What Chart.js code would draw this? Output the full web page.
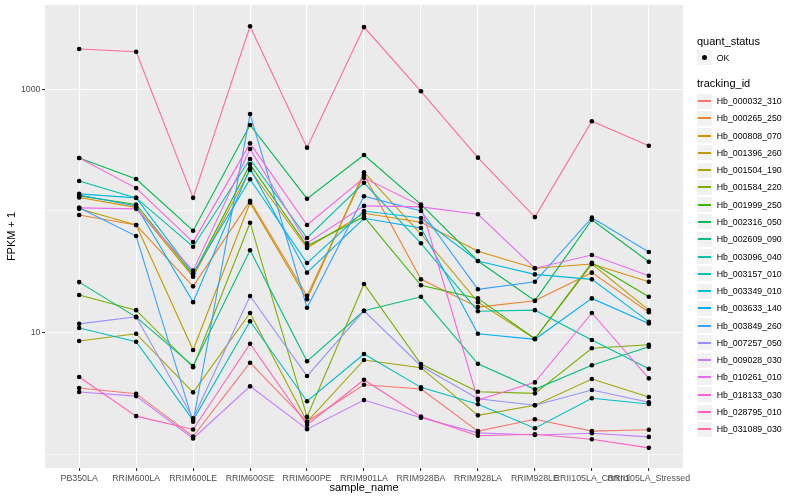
<!DOCTYPE html>
<html>
<head>
<meta charset="utf-8">
<script src="https://cdn.jsdelivr.net/npm/chart.js@4.4.1/dist/chart.umd.min.js"></script>
<style>
  body { margin: 0; background: #fff; font-family: "Liberation Sans", Arial, sans-serif; }
  #wrap { position: relative; width: 800px; height: 500px; }
  #legend div { position: absolute; white-space: nowrap; }
  .ttl { font-size: 11px; color: #000; height: 14px; line-height: 14px; }
  .lab { font-size: 8.8px; color: #000; height: 12px; line-height: 12px; }
  .key { background: #F2F2F2; width: 15px; height: 15px; }
</style>
</head>
<body>
<div id="wrap">
  <canvas id="chart" width="800" height="500"></canvas>
  <div id="legend"></div>
</div>
<script>
const sampleNames = ["PB350LA", "RRIM600LA", "RRIM600LE", "RRIM600SE", "RRIM600PE", "RRIM901LA",
  "RRIM928BA", "RRIM928LA", "RRIM928LE", "RRII105LA_Control", "RRII105LA_Stressed"];

const trackingIds = ["Hb_000032_310", "Hb_000265_250", "Hb_000808_070", "Hb_001396_260", "Hb_001504_190",
  "Hb_001584_220", "Hb_001999_250", "Hb_002316_050", "Hb_002609_090", "Hb_003096_040",
  "Hb_003157_010", "Hb_003349_010", "Hb_003633_140", "Hb_003849_260", "Hb_007257_050",
  "Hb_009028_030", "Hb_010261_010", "Hb_018133_030", "Hb_028795_010", "Hb_031089_030"];

const trackingColors = ["#F8766D", "#EA8331", "#D89000", "#C09B00", "#A3A500", "#7CAE00", "#39B600",
  "#00BB4E", "#00BF7D", "#00C1A3", "#00BFC4", "#00BAE0", "#00B0F6", "#35A2FF", "#9590FF",
  "#C77CFF", "#E76BF3", "#FA62DB", "#FF62BC", "#FF6C91"];

// FPKM + 1 per sample, one array per gene
const hb_000032_310 = [3.51, 3.15, 1.40, 5.66, 1.85, 3.73, 3.44, 1.55, 1.94, 1.55, 1.59];
const hb_000265_250 = [92.5, 76.6, 24.0, 121, 20.1, 197, 27.4, 16.2, 18.3, 31.1, 14.7];
const hb_000808_070 = [129, 107, 28.8, 217, 49.6, 95.6, 80.6, 46.6, 33.8, 36.6, 26.2];
const hb_001396_260 = [104, 76.6, 7.19, 117, 18.8, 208, 64.6, 17.8, 8.91, 36.6, 15.3];
const hb_001504_190 = [8.53, 9.79, 3.23, 14.5, 1.85, 5.96, 5.15, 2.09, 2.53, 4.16, 2.96];
const hb_001584_220 = [20.4, 15.3, 5.19, 80.0, 2.03, 25.1, 5.52, 3.27, 3.17, 7.43, 7.95];
const hb_001999_250 = [133, 113, 29.9, 241, 51.5, 89.6, 24.5, 19.1, 8.91, 37.5, 19.7];
const hb_002316_050 = [272, 183, 68.8, 508, 126, 288, 113, 38.8, 18.3, 84.7, 38.2];
const hb_002609_090 = [26.0, 13.4, 5.32, 47.5, 5.81, 15.1, 19.7, 5.55, 3.42, 5.39, 7.66];
const hb_003096_040 = [176, 128, 50.8, 267, 59.9, 170, 54.2, 15.0, 15.3, 8.69, 5.05];
const hb_003157_010 = [10.9, 8.42, 1.91, 12.4, 2.73, 6.67, 3.55, 2.58, 1.64, 2.89, 2.59];
const hb_003349_010 = [138, 128, 30.7, 182, 37.3, 99.8, 87.4, 38.8, 30.1, 27.4, 12.3];
const hb_003633_140 = [135, 110, 17.8, 224, 31.1, 87.0, 72.4, 9.79, 8.81, 19.1, 11.9];
const hb_003849_260 = [106, 62.2, 1.85, 625, 16.0, 132, 100, 22.7, 26.2, 88.0, 46.0];
const hb_007257_050 = [11.8, 13.5, 1.98, 20.0, 4.40, 15.1, 5.32, 2.86, 2.53, 3.38, 2.68];
const hb_009028_030 = [3.25, 3.01, 1.35, 3.62, 1.61, 2.79, 2.00, 1.50, 1.44, 1.49, 1.39];
const hb_010261_010 = [106, 104, 32.3, 323, 54.2, 110, 108, 93.8, 33.8, 43.4, 29.3];
const hb_018133_030 = [272, 154, 55.5, 359, 76.6, 187, 110, 2.79, 3.90, 14.5, 4.21];
const hb_028795_010 = [4.32, 2.06, 1.60, 8.10, 1.74, 4.10, 2.04, 1.42, 1.46, 1.33, 1.13];
const hb_031089_030 = [2140, 2030, 128, 3290, 331, 3240, 961, 274, 89, 545, 343];

const seriesValues = [hb_000032_310, hb_000265_250, hb_000808_070, hb_001396_260, hb_001504_190,
  hb_001584_220, hb_001999_250, hb_002316_050, hb_002609_090, hb_003096_040,
  hb_003157_010, hb_003349_010, hb_003633_140, hb_003849_260, hb_007257_050,
  hb_009028_030, hb_010261_010, hb_018133_030, hb_028795_010, hb_031089_030];

const yGridTicks = [1, 10, 100, 1000];
const yLabelTicks = [10, 1000];

const panelBg = {
  id: "panelBg",
  beforeDraw(chart) {
    const { ctx, chartArea: a } = chart;
    ctx.save();
    ctx.fillStyle = "#EBEBEB";
    ctx.fillRect(a.left, a.top, a.right - a.left, a.bottom - a.top);
    ctx.restore();
  },
};

const toXY = (vals) => vals.map((v, i) => ({ x: i, y: v }));

// lines first (first gene at the bottom), then all points on top
const lineSets = seriesValues.map((vals, i) => ({
  label: trackingIds[i],
  data: toXY(vals),
  borderColor: trackingColors[i],
  borderWidth: 1.1,
  pointRadius: 0,
  fill: false,
  order: 100 - i,
}));
const pointSets = seriesValues.map((vals, i) => ({
  label: trackingIds[i] + " OK",
  data: toXY(vals),
  showLine: false,
  pointRadius: 2.3,
  pointBorderWidth: 0,
  pointBackgroundColor: "#000",
  order: 0,
}));

new Chart(document.getElementById("chart").getContext("2d"), {
  type: "line",
  data: { datasets: [...lineSets, ...pointSets] },
  plugins: [panelBg],
  options: {
    responsive: false,
    animation: false,
    events: [],
    layout: { padding: { top: 5, right: 117, left: 0, bottom: 0 } },
    plugins: { legend: { display: false }, tooltip: { enabled: false } },
    scales: {
      x: {
        type: "linear",
        min: -0.6,
        max: 10.6,
        afterBuildTicks: (s) => { s.ticks = sampleNames.map((_, i) => ({ value: i })); },
        afterFit: (s) => { s.height = 32; s.paddingLeft = 0; s.paddingRight = 0; },
        border: { display: false },
        grid: { color: "#FFFFFF", lineWidth: 1.1, tickColor: "#333333", tickLength: 3, tickWidth: 1.1 },
        ticks: {
          autoSkip: false, maxRotation: 0, minRotation: 0, padding: 2,
          color: "#4D4D4D", font: { family: "Liberation Sans", size: 8.8 },
          callback: (v) => sampleNames[v],
        },
        title: {
          display: true, text: "sample_name", color: "#000",
          font: { family: "Liberation Sans", size: 11 }, padding: { top: 0, bottom: 5 },
        },
      },
      y: {
        type: "logarithmic",
        min: 0.772,
        max: 4920,
        afterBuildTicks: (s) => { s.ticks = yGridTicks.map((v) => ({ value: v })); },
        afterFit: (s) => { s.width = 45; s.paddingTop = 0; s.paddingBottom = 0; },
        border: { display: false },
        grid: {
          color: "#FFFFFF",
          lineWidth: (c) => (yLabelTicks.includes(c.tick.value) ? 1.1 : 0.55),
          tickColor: (c) => (yLabelTicks.includes(c.tick.value) ? "#333333" : "rgba(0,0,0,0)"),
          tickLength: 3,
          tickWidth: 1.1,
        },
        ticks: {
          padding: 1.5, color: "#4D4D4D", font: { family: "Liberation Sans", size: 8.8 },
          callback: (v) => (yLabelTicks.includes(v) ? String(v) : ""),
        },
        title: {
          display: true, text: "FPKM + 1", color: "#000",
          font: { family: "Liberation Sans", size: 11 }, padding: { top: 5.5, bottom: 0 },
        },
      },
    },
  },
});

// ggplot-style legend on the right
const legend = document.getElementById("legend");
let html = "";
html += '<div class="ttl" style="left:697px;top:34px">quant_status</div>';
html += '<div class="key" style="left:697px;top:50px"></div>';
html += '<div style="left:702px;top:55px;width:5px;height:5px;border-radius:50%;background:#000"></div>';
html += '<div class="lab" style="left:716.7px;top:51.5px">OK</div>';
html += '<div class="ttl" style="left:697px;top:76.3px">tracking_id</div>';
trackingIds.forEach((id, i) => {
  const cy = 101 + i * 17.28;
  html += `<div class="key" style="left:697px;top:${Math.round(cy - 7.5)}px"></div>`;
  html += `<div style="left:698px;top:${Math.round(cy - 1)}px;width:13px;height:1.5px;background:${trackingColors[i]}"></div>`;
  html += `<div class="lab" style="left:716.7px;top:${(cy - 6).toFixed(2)}px">${id}</div>`;
});
legend.innerHTML = html;
</script>
</body>
</html>
